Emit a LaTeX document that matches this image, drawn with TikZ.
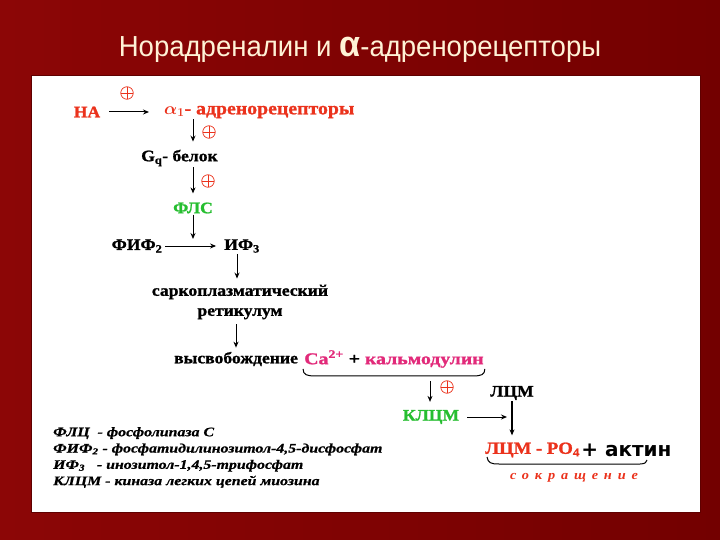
\documentclass[tikz,border=0pt]{standalone}
\usepackage{fontspec}
\usepackage{xcolor}
\setmainfont{Liberation Serif}
\newfontfamily\labelfont[FakeStretch=1.1, BoldFeatures={FakeBold=1.2}]{Liberation Serif}
\newfontfamily\legendfont[FakeStretch=1.22, BoldItalicFeatures={FakeBold=0.8}]{Liberation Serif}
\newfontfamily\titlefont[FakeStretch=0.95]{Liberation Sans}
\newfontfamily\actinfont{DejaVu Sans}
\usetikzlibrary{arrows.meta}

\definecolor{slidelight}{RGB}{140,6,6}
\definecolor{slidered}{RGB}{115,0,0}
\definecolor{slidedark}{RGB}{95,0,0}
\definecolor{titlecream}{RGB}{255,242,214}
\definecolor{nared}{RGB}{235,50,28}
\definecolor{camag}{RGB}{226,42,122}
\definecolor{flsgreen}{RGB}{38,190,48}

\tikzset{
  lbl/.style={inner sep=1pt, font=\labelfont\fontsize{16}{20}\selectfont\bfseries},
  arr/.style={-{Stealth[length=6pt,width=5pt]}, line width=1pt},
  sign/.style={circle, draw=nared, line width=0.7pt, minimum size=12.5pt, inner sep=0pt,
    path picture={\draw[nared, line width=0.7pt]
      (path picture bounding box.north) -- (path picture bounding box.south)
      (path picture bounding box.west) -- (path picture bounding box.east);}},
  bracket/.style={line width=1pt},
}

\begin{document}
\begin{tikzpicture}[x=1pt,y=-1pt]
\shade[left color=slidelight, right color=slidered] (0,0) rectangle (720,540);
\useasboundingbox (0,0) rectangle (720,540);
\fill[white, draw=slidedark, line width=1pt] (31,76) rectangle (700,512);
\node[text=titlecream, font=\titlefont\fontsize{29}{32}\selectfont] (title) at (360,50)
  {Норадреналин и {\fontsize{36}{36}\selectfont\bfseries α}-адренорецепторы};

\node[lbl, text=nared] (na) at (87,112) {НА};
\node[lbl, text=nared, anchor=west, font=\labelfont\fontsize{18}{20}\selectfont\bfseries] (ar) at (163,112)
  {{\boldmath$\alpha_1$}- адренорецепторы};
\node[lbl, anchor=west] (gq) at (140,158) {G\textsubscript{q}- белок};
\node[lbl, text=flsgreen] (fls) at (193,208) {ФЛС};
\node[lbl] (fif) at (137,246) {ФИФ\textsubscript{2}};
\node[lbl] (if) at (242,246) {ИФ\textsubscript{3}};
\node[lbl, align=center] (sr) at (240,302) {саркоплазматический\\ретикулум};
\node[lbl] (rel) at (236,359) {высвобождение};
\node[lbl, anchor=west, font=\labelfont\fontsize{16.5}{20}\selectfont\bfseries\addfontfeature{FakeStretch=1.2}] (cam)
  at ([xshift=4pt]rel.east)
  {\textcolor{camag}{Ca\textsuperscript{2+}} + \textcolor{camag}{кальмодулин}};
\node[lbl, text=flsgreen] (klcm) at (431,417) {КЛЦМ};
\node[lbl] (lcm) at (512,393) {ЛЦМ};
\node[lbl, text=nared, anchor=west, font=\labelfont\fontsize{17}{20}\selectfont\bfseries] (lcmp) at (484,450)
  {ЛЦМ - PO\textsubscript{4}};
\node[inner sep=0pt, anchor=west, font=\actinfont\bfseries\fontsize{20}{20}\selectfont] (act)
  at (lcmp.east) {+ актин};
\node[lbl, text=nared, font=\labelfont\fontsize{13}{14}\selectfont\bfseries\itshape\addfontfeature{LetterSpace=45}]
  (contr) at (574,478) {сокращение};

\node[sign] (s1) at (127,93) {};
\node[sign] (s2) at (209,132) {};
\node[sign] (s3) at (208,181) {};
\node[sign] (s4) at (447,387) {};

\coordinate (j) at (193,239);
\coordinate (k) at (430,381);

\draw[arr, shorten <=8pt, shorten >=14pt] (na.east) -- (ar.west);
\draw[arr, shorten >=7pt] (ar.south -| fls) -- (gq.north -| fls);
\draw[arr, shorten >=8pt] (gq.south -| fls) -- (fls.north);
\draw[arr] (fls.south) -- (j);
\draw[arr, shorten <=2pt, shorten >=7pt] (fif.east) -- (if.west);
\draw[arr, shorten >=5pt] ([xshift=-5pt]if.south) -- ([xshift=-5pt]if.south |- sr.north);
\draw[arr, shorten <=4pt, shorten >=3pt] (sr.south -| rel.north) -- (rel.north);
\draw[arr, shorten >=7pt] (k) -- (k |- klcm.north);
\draw[arr, shorten <=7pt, shorten >=5pt] (klcm.east) -- (klcm.east -| lcm.south);
\draw[arr, line width=1.4pt, shorten >=6pt] (lcm.south) -- (lcm.south |- lcmp.north);

\draw[bracket] (cam.south west) .. controls ([yshift=-6pt]cam.south west) and ([xshift=4pt,yshift=-7pt]cam.south west) .. ([xshift=12pt,yshift=-7pt]cam.south west)
  -- ([xshift=-12pt,yshift=-7pt]cam.south east) .. controls ([xshift=-4pt,yshift=-7pt]cam.south east) and ([yshift=-6pt]cam.south east) .. (cam.south east);
\draw[bracket] (487,457) .. controls (488,463) and (491,464) .. (499,464) -- (640,464) .. controls (645,464) and (647,462) .. (647,460);

\node[anchor=north west, align=left, inner sep=0pt, font=\legendfont\fontsize{13}{16.3}\selectfont\bfseries\itshape] (legend) at (53,427)
  {ФЛЦ\ \ - фосфолипаза С\\
   ФИФ\textsubscript{2} - фосфатидилинозитол-4,5-дисфосфат\\
   ИФ\textsubscript{3}\ \ \ - инозитол-1,4,5-трифосфат\\
   КЛЦМ - киназа легких цепей миозина};
\end{tikzpicture}
\end{document}
